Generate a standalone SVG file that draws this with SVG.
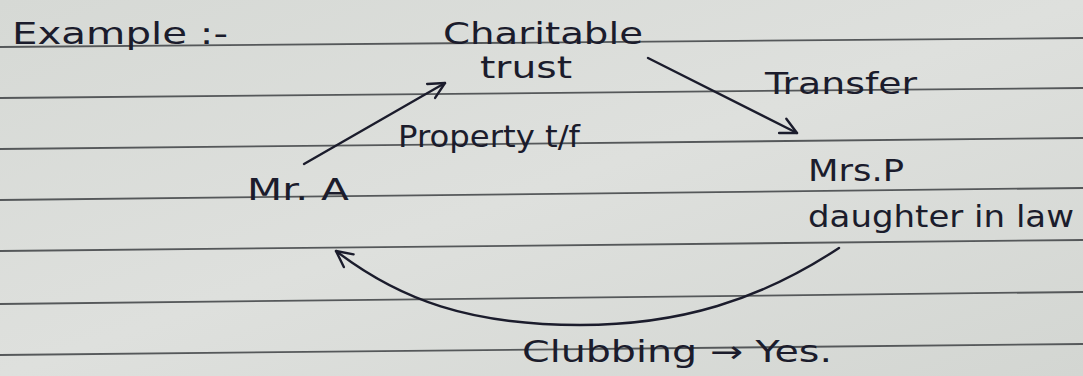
<svg xmlns="http://www.w3.org/2000/svg" width="1083" height="376" viewBox="0 0 1083 376">
<defs>
<linearGradient id="paper" x1="0" y1="0" x2="1" y2="1">
<stop offset="0" stop-color="#d6d9d5"/>
<stop offset="0.5" stop-color="#dee0dd"/>
<stop offset="1" stop-color="#d3d6d2"/>
</linearGradient>
<marker id="v" viewBox="0 0 20 20" refX="18" refY="10" markerWidth="20" markerHeight="20" markerUnits="userSpaceOnUse" orient="auto">
<path d="M2,2 L18,10 L2,18" fill="none" stroke="#1b1c2c" stroke-width="2.4" stroke-linecap="round" stroke-linejoin="round"/>
</marker>
<style>
.rule{stroke:#55585a;stroke-width:1.8;fill:none}
.ink{fill:#1b1c2c;font-family:"DejaVu Sans","Liberation Sans",sans-serif;font-size:30px}
.conn{stroke:#1b1c2c;stroke-width:2.4;fill:none;stroke-linecap:round}
</style>
</defs>
<rect width="1083" height="376" fill="url(#paper)"/>
<g id="rules">
<line class="rule" x1="0" y1="47" x2="1083" y2="38"/>
<line class="rule" x1="0" y1="98" x2="1083" y2="88"/>
<line class="rule" x1="0" y1="149" x2="1083" y2="138"/>
<line class="rule" x1="0" y1="200" x2="1083" y2="188"/>
<line class="rule" x1="0" y1="251" x2="1083" y2="240"/>
<line class="rule" x1="0" y1="304" x2="1083" y2="292"/>
<line class="rule" x1="0" y1="355" x2="1083" y2="344"/>
</g>
<g id="title"><text class="ink" x="12" y="44" font-size="37" textLength="216" lengthAdjust="spacingAndGlyphs">Example :-</text></g>
<g id="node-trust">
<text class="ink" x="443" y="44" font-size="32" textLength="200" lengthAdjust="spacingAndGlyphs">Charitable</text>
<text class="ink" x="480" y="78" font-size="26" textLength="92" lengthAdjust="spacingAndGlyphs">trust</text>
</g>
<g id="node-mra"><text class="ink" x="247" y="200" font-size="33" textLength="102" lengthAdjust="spacingAndGlyphs">Mr. A</text></g>
<g id="node-mrsp">
<text class="ink" x="808" y="181" textLength="96" lengthAdjust="spacingAndGlyphs">Mrs.P</text>
<text class="ink" x="808" y="227" textLength="266" lengthAdjust="spacingAndGlyphs">daughter in law</text>
</g>
<g id="connectors">
<path class="conn" d="M304,164 L445,83" marker-end="url(#v)"/>
<path class="conn" d="M648,58 L797,133" marker-end="url(#v)"/>
<path class="conn" d="M839,248 C760,300 680,325 580,325 C470,325 400,300 336,251" marker-end="url(#v)"/>
</g>
<g id="labels">
<text class="ink" x="398" y="147" textLength="182" lengthAdjust="spacingAndGlyphs">Property t/f</text>
<text class="ink" x="765" y="94" font-size="28" textLength="152" lengthAdjust="spacingAndGlyphs">Transfer</text>
<text class="ink" x="522" y="362" font-size="31" textLength="310" lengthAdjust="spacingAndGlyphs">Clubbing → Yes.</text>
</g>
</svg>
